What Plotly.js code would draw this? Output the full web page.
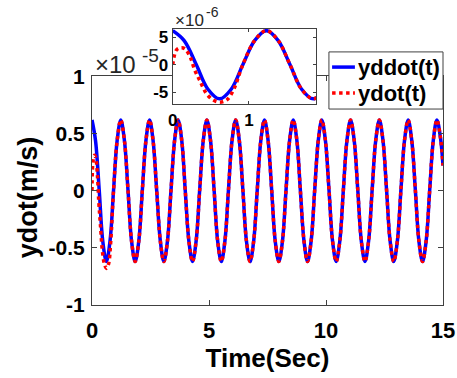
<!DOCTYPE html>
<html>
<head>
<meta charset="utf-8">
<script src="https://cdn.plot.ly/plotly-3.0.1.min.js"></script>
<style>html,body{margin:0;padding:0;background:#fff;}#chart{width:457px;height:378px;}</style>
</head>
<body>
<div id="chart"></div>
<script>
// values in units of 1e-5 m/s
var tBlue = [
  0,0.15,0.31,0.46,0.615,0.77,0.92,1.075,
  1.23,1.385,1.54,1.69,1.845,2.0,2.15,2.305,
  2.46,2.61,2.765,2.92,3.07,3.225,3.375,3.53,
  3.68,3.835,3.985,4.14,4.295,4.45,4.60,4.755,
  4.91,5.065,5.22,5.37,5.525,5.68,5.83,5.985,
  6.14,6.295,6.45,6.60,6.755,6.91,7.06,7.215,
  7.37,7.525,7.68,7.83,7.985,8.14,8.29,8.445,
  8.60,8.755,8.905,9.06,9.21,9.365,9.515,9.67,
  9.82,9.975,10.13,10.28,10.435,10.59,10.74,10.895,
  11.05,11.205,11.36,11.51,11.665,11.82,11.97,12.125,
  12.28,12.435,12.59,12.74,12.895,13.05,13.20,13.355,
  13.51,13.665,13.82,13.97,14.125,14.28,14.43,14.585,
  14.74,14.895,15.0];
var yddot = [
  0.62,0.44,0,-0.44,-0.62,-0.44,0,0.44,
  0.62,0.44,0,-0.44,-0.62,-0.44,0,0.44,
  0.62,0.44,0,-0.44,-0.62,-0.44,0,0.44,
  0.62,0.44,0,-0.44,-0.62,-0.44,0,0.44,
  0.62,0.44,0,-0.44,-0.62,-0.44,0,0.44,
  0.62,0.44,0,-0.44,-0.62,-0.44,0,0.44,
  0.62,0.44,0,-0.44,-0.62,-0.44,0,0.44,
  0.62,0.44,0,-0.44,-0.62,-0.44,0,0.44,
  0.62,0.44,0,-0.44,-0.62,-0.44,0,0.44,
  0.62,0.44,0,-0.44,-0.62,-0.44,0,0.44,
  0.62,0.44,0,-0.44,-0.62,-0.44,0,0.44,
  0.62,0.44,0,-0.44,-0.62,-0.44,0,0.44,
  0.62,0.46,0.22];
var tRed = [
  0,0.05,0.11,0.16,0.23,0.29,0.36,0.44,0.53,0.62,0.71,0.80,0.92,1.075,
  1.23,1.385,1.54,1.69,1.845,2.0,2.15,2.305,
  2.46,2.61,2.765,2.92,3.07,3.225,3.375,3.53,
  3.68,3.835,3.985,4.14,4.295,4.45,4.60,4.755,
  4.91,5.065,5.22,5.37,5.525,5.68,5.83,5.985,
  6.14,6.295,6.45,6.60,6.755,6.91,7.06,7.215,
  7.37,7.525,7.68,7.83,7.985,8.14,8.29,8.445,
  8.60,8.755,8.905,9.06,9.21,9.365,9.515,9.67,
  9.82,9.975,10.13,10.28,10.435,10.59,10.74,10.895,
  11.05,11.205,11.36,11.51,11.665,11.82,11.97,12.125,
  12.28,12.435,12.59,12.74,12.895,13.05,13.20,13.355,
  13.51,13.665,13.82,13.97,14.125,14.28,14.43,14.585,
  14.74,14.895,15.0];
var ydot = [
  0,0.27,0.31,0.29,0.14,-0.10,-0.30,-0.52,-0.64,-0.68,-0.64,-0.45,0,0.44,
  0.62,0.44,0,-0.44,-0.62,-0.44,0,0.44,
  0.62,0.44,0,-0.44,-0.62,-0.44,0,0.44,
  0.62,0.44,0,-0.44,-0.62,-0.44,0,0.44,
  0.62,0.44,0,-0.44,-0.62,-0.44,0,0.44,
  0.62,0.44,0,-0.44,-0.62,-0.44,0,0.44,
  0.62,0.44,0,-0.44,-0.62,-0.44,0,0.44,
  0.62,0.44,0,-0.44,-0.62,-0.44,0,0.44,
  0.62,0.44,0,-0.44,-0.62,-0.44,0,0.44,
  0.62,0.44,0,-0.44,-0.62,-0.44,0,0.44,
  0.62,0.44,0,-0.44,-0.62,-0.44,0,0.44,
  0.62,0.44,0,-0.44,-0.62,-0.44,0,0.44,
  0.62,0.46,0.22];
var seriesNames = ['yddot(t)', 'ydot(t)'];
var xTicks = [0,5,10,15];
var yTicks = [-1,-0.5,0,0.5,1];
var yTickText = ['-1','-0.5','0','0.5','1'];
var insetXTicks = [0,1];
var insetYTicks = [-0.5,0,0.5];
var insetYTickText = ['-5','0','5'];

var FONT = 'Liberation Sans, Arial, sans-serif';
var AX = '#404040';
var BLUE = '#0000ff', RED = '#ff0000';
var blueLine = {color:BLUE, width:3.5, shape:'spline', smoothing:1};
var redLine = {color:RED, width:3.5, dash:'dot', shape:'spline', smoothing:1};

var traces = [
  {x:tBlue, y:yddot, mode:'lines', name:seriesNames[0], line:blueLine, xaxis:'x', yaxis:'y'},
  {x:tRed, y:ydot, mode:'lines', name:seriesNames[1], line:redLine, xaxis:'x', yaxis:'y'},
  {x:tBlue, y:yddot, mode:'lines', line:blueLine, xaxis:'x2', yaxis:'y2'},
  {x:tRed, y:ydot, mode:'lines', line:redLine, xaxis:'x2', yaxis:'y2'}
];

var axBase = {showline:true, linecolor:AX, linewidth:1, mirror:'ticks', ticks:'inside', ticklen:5, tickcolor:AX, showgrid:false, zeroline:false, automargin:false};

// legend drawn as a box (paper coords)
var lg = {x0:0.675, x1:1.0, y0:0.710, y1:0.917, sx0:0.684, sx1:0.749, tx:0.752, ty:[0.862, 0.768]};
var TXT = '#262626';

var layout = {
  width:457, height:378,
  margin:{l:92, r:14, t:29, b:73},
  paper_bgcolor:'#fff', plot_bgcolor:'#fff',
  font:{family:FONT, color:'#000'},
  showlegend:false,
  xaxis: Object.assign({}, axBase, {domain:[0,1], range:[0,15], tickvals:xTicks, ticktext:xTicks.map(String),
          tickfont:{family:FONT, size:22, weight:'bold', color:'#000'}, anchor:'y', ticklabelstandoff:6,
          title:{text:'Time(Sec)', font:{family:FONT, size:26, weight:'bold', color:'#000'}, standoff:6}}),
  yaxis: Object.assign({}, axBase, {domain:[0,0.828], range:[-1,1], tickvals:yTicks, ticktext:yTickText,
          tickfont:{family:FONT, size:21, weight:'bold', color:'#000'}, anchor:'x', ticklabelstandoff:2}),
  xaxis2: Object.assign({}, axBase, {domain:[0.230,0.638], range:[0,1.88], tickvals:insetXTicks, ticktext:['0','1'],
          tickfont:{family:FONT, size:17, weight:'bold', color:'#000'}, anchor:'y2', ticklen:3}),
  yaxis2: Object.assign({}, axBase, {domain:[0.727,1.0], range:[-0.72,0.65], tickvals:insetYTicks, ticktext:insetYTickText,
          tickfont:{family:FONT, size:17, weight:'bold', color:'#000'}, anchor:'x2', ticklen:3}),
  shapes:[
    {type:'rect', xref:'paper', yref:'paper', x0:lg.x0, x1:lg.x1, y0:lg.y0, y1:lg.y1, fillcolor:'#fff', line:{color:AX, width:1}, layer:'above'},
    {type:'line', xref:'paper', yref:'paper', x0:lg.sx0, x1:lg.sx1, y0:lg.ty[0], y1:lg.ty[0], line:{color:BLUE, width:3.5}, layer:'above'},
    {type:'line', xref:'paper', yref:'paper', x0:lg.sx0, x1:lg.sx1, y0:lg.ty[1], y1:lg.ty[1], line:{color:RED, width:3.5, dash:'dot'}, layer:'above'}
  ],
  annotations:[
    // y-axis title
    {xref:'paper', yref:'paper', x:-0.18, y:0.39, xanchor:'center', yanchor:'middle', showarrow:false, textangle:-90,
     text:'ydot(m/s)', font:{family:FONT, size:27, weight:'bold', color:'#000'}},
    // exponent labels
    {xref:'paper', yref:'paper', x:0.003, y:0.815, xanchor:'left', yanchor:'bottom', showarrow:false,
     text:'×10', font:{family:FONT, size:24, color:TXT}},
    {xref:'paper', yref:'paper', x:0.137, y:0.86, xanchor:'left', yanchor:'bottom', showarrow:false,
     text:'-5', font:{family:FONT, size:19, color:TXT}},
    {xref:'paper', yref:'paper', x:0.232, y:0.99, xanchor:'left', yanchor:'bottom', showarrow:false,
     text:'×10', font:{family:FONT, size:17, color:TXT}},
    {xref:'paper', yref:'paper', x:0.318, y:1.025, xanchor:'left', yanchor:'bottom', showarrow:false,
     text:'-6', font:{family:FONT, size:14, color:TXT}},
    // legend text
    {xref:'paper', yref:'paper', x:lg.tx, y:lg.ty[0], xanchor:'left', yanchor:'middle', showarrow:false,
     text:seriesNames[0], font:{family:FONT, size:22, weight:'bold', color:'#000'}},
    {xref:'paper', yref:'paper', x:lg.tx, y:lg.ty[1], xanchor:'left', yanchor:'middle', showarrow:false,
     text:seriesNames[1], font:{family:FONT, size:22, weight:'bold', color:'#000'}}
  ]
};

Plotly.newPlot('chart', traces, layout, {displayModeBar:false, staticPlot:true});
</script>
</body>
</html>
